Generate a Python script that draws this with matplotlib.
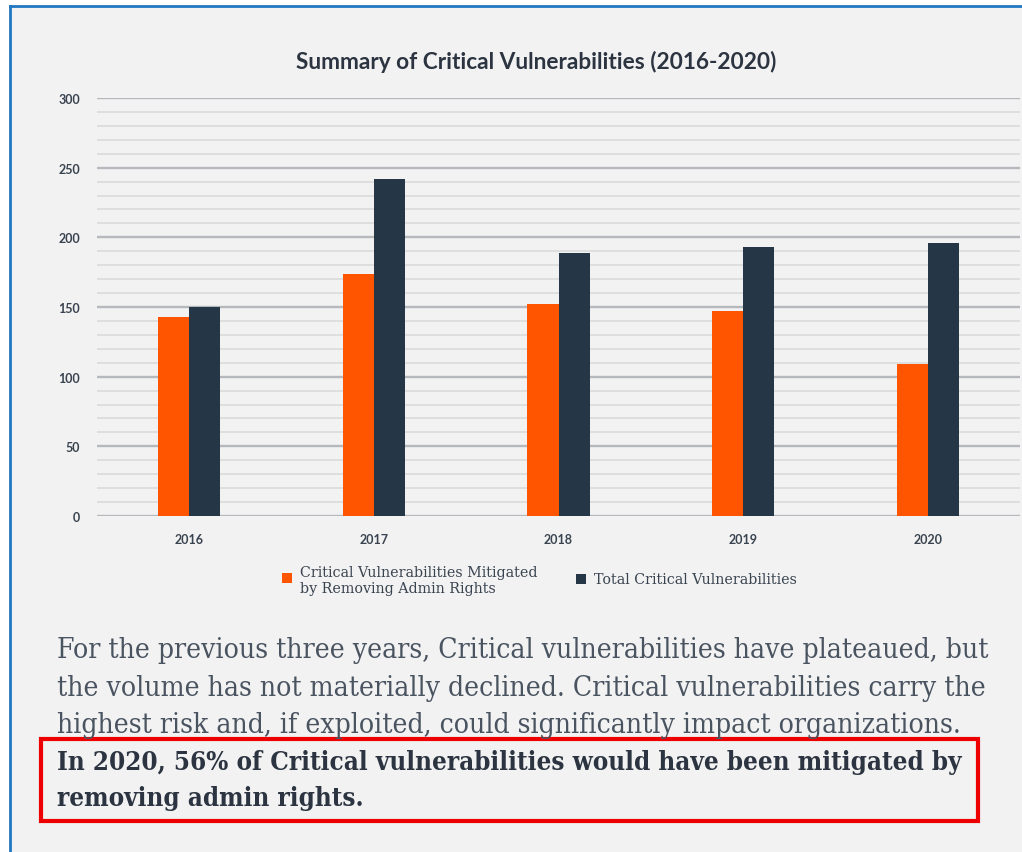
import matplotlib.pyplot as plt
from matplotlib.patches import Rectangle
from matplotlib.lines import Line2D
import numpy as np

# data
years = ['2016', '2017', '2018', '2019', '2020']
mitigated = [143, 174, 152, 147, 109]
total = [150, 242, 189, 193, 196]

orange = '#ff5500'
navy = '#253646'
bg = '#f2f2f2'

W, H = 1022, 853
fig = plt.figure(figsize=(W / 100, H / 100), dpi=100)
fig.patch.set_facecolor('white')

# panel background + blue frame (left and top)
fig.patches.append(Rectangle((10 / W, 0), 1 - 10 / W, 1 - 7 / H, transform=fig.transFigure,
                             facecolor=bg, edgecolor='none', zorder=-5))
fig.lines.append(Line2D([10 / W, 10 / W], [0, 1 - 7 / H], transform=fig.transFigure,
                        color='#1f78c1', lw=2, zorder=-4))
fig.lines.append(Line2D([10 / W, 1], [1 - 7 / H, 1 - 7 / H], transform=fig.transFigure,
                        color='#1f78c1', lw=2, zorder=-4))

ax = fig.add_axes([97 / W, 1 - 517 / H, 923 / W, (517 - 99) / H])
ax.patch.set_alpha(0)

x = np.arange(len(years))
w = 0.168
ax.bar(x - w / 2, mitigated, w, color=orange, zorder=3)
ax.bar(x + w / 2, total, w, color=navy, zorder=3)

ax.set_xlim(-0.5, len(years) - 0.5)
ax.set_ylim(0, 300)
ax.set_yticks(np.arange(0, 301, 50))
ax.set_yticks(np.arange(0, 301, 10), minor=True)
ax.grid(which='major', axis='y', color='#b5b9bd', lw=1.7, zorder=1)
ax.grid(which='minor', axis='y', color='#dcdcdc', lw=1.3, zorder=1)
ax.set_axisbelow(True)
ax.set_xticks(x)
ax.set_xticklabels(years)
ax.tick_params(axis='both', which='both', length=0, labelsize=9, colors='#3a4450')
ax.tick_params(axis='y', pad=12)
ax.tick_params(axis='x', pad=12)
for lab in ax.get_xticklabels() + ax.get_yticklabels():
    lab.set_fontfamily('Lato')
    lab.set_fontweight('bold')
for s in ax.spines.values():
    s.set_visible(False)

fig.text(536 / W, 1 - 62 / H, 'Summary of Critical Vulnerabilities (2016-2020)',
         ha='center', va='center', fontsize=16.3, fontweight='bold',
         family='Lato', color='#2b3440')

# legend
fig.patches.append(Rectangle((282 / W, 1 - 584 / H), 10 / W, 10 / H, transform=fig.transFigure,
                             facecolor=orange, edgecolor='none'))
fig.text(300 / W, 1 - 581 / H, 'Critical Vulnerabilities Mitigated\nby Removing Admin Rights',
         ha='left', va='center', fontsize=10.3, family='DejaVu Serif', color='#3a4450',
         linespacing=1.1)
fig.patches.append(Rectangle((576 / W, 1 - 585 / H), 10 / W, 10 / H, transform=fig.transFigure,
                             facecolor=navy, edgecolor='none'))
fig.text(594 / W, 1 - 580 / H, 'Total Critical Vulnerabilities',
         ha='left', va='center', fontsize=10.3, family='DejaVu Serif', color='#3a4450')

# paragraph below the chart
para = ['For the previous three years, Critical vulnerabilities have plateaued, but',
        'the volume has not materially declined. Critical vulnerabilities carry the',
        'highest risk and, if exploited, could significantly impact organizations.']
bold = ['In 2020, 56% of Critical vulnerabilities would have been mitigated by',
        'removing admin rights.']

renderer = fig.canvas.get_renderer()


def fit(text, width_px, **kw):
    t = fig.text(0, 0, text, fontsize=10, **kw)
    wpx = t.get_window_extent(renderer).width
    t.remove()
    return 10 * width_px / wpx


pfont = dict(family='DejaVu Serif', fontstretch='condensed')
size_n = fit(para[0], 928, **pfont)
size_b = fit(bold[0], 905, fontweight='bold', **pfont)

for i, line in enumerate(para):
    fig.text(57 / W, 1 - (651 + 37.5 * i) / H, line, ha='left', va='center',
             fontsize=size_n, color='#4a5461', **pfont)
for i, line in enumerate(bold):
    fig.text(57 / W, 1 - (763 + 36 * i) / H, line, ha='left', va='center',
             fontsize=size_b, fontweight='bold', color='#2b3440', **pfont)

fig.patches.append(Rectangle((41 / W, 1 - 822 / H), (978 - 41) / W, (822 - 740) / H,
                             transform=fig.transFigure, facecolor='none',
                             edgecolor='#ee0000', lw=3))

fig.savefig('out.png', dpi=100, facecolor=fig.get_facecolor())
